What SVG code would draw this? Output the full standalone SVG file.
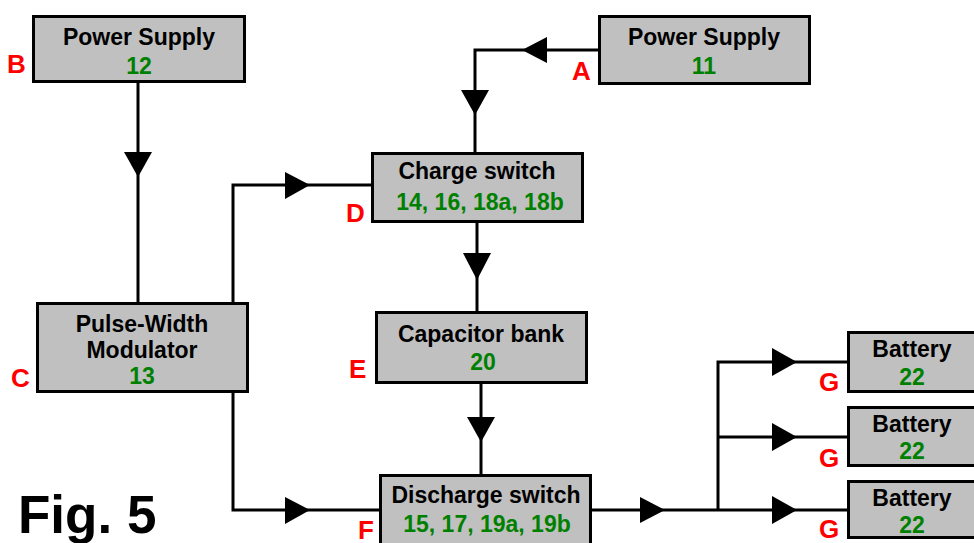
<svg xmlns="http://www.w3.org/2000/svg" width="974" height="543" viewBox="0 0 974 543">
<style>
.box{fill:#c0c0c0;stroke:#000;stroke-width:3}
.t{font-family:"Liberation Sans",Arial,sans-serif;font-weight:bold;font-size:23px;fill:#000;text-anchor:middle}
.n{font-family:"Liberation Sans",Arial,sans-serif;font-weight:bold;font-size:23px;fill:#008000;text-anchor:middle}
.lab{font-family:"Liberation Sans",Arial,sans-serif;font-weight:bold;font-size:26px;fill:#ff0000}
.ln{fill:none;stroke:#000;stroke-width:3}
.ah{fill:#000;stroke:none}
.fig{font-family:"Liberation Sans",Arial,sans-serif;font-weight:bold;font-size:53px;fill:#000}
</style>
<rect width="974" height="543" fill="#fff"/>
<g id="connectors">
  <path class="ln" d="M138,83 V302"/>
  <polygon class="ah" points="124,152 152,152 138,177"/>
  <path class="ln" d="M598,50 H475 V152"/>
  <polygon class="ah" points="547,37 547,63 522,50"/>
  <polygon class="ah" points="461,90 489,90 475,115"/>
  <path class="ln" d="M233,302 V185 H372"/>
  <polygon class="ah" points="285,172 285,199 310,185"/>
  <path class="ln" d="M477,222 V312"/>
  <polygon class="ah" points="463,253 491,253 477,280"/>
  <path class="ln" d="M481,383 V474"/>
  <polygon class="ah" points="467,417 495,417 481,442"/>
  <path class="ln" d="M233,393 V510 H379"/>
  <polygon class="ah" points="285,497 285,524 310,510"/>
  <path class="ln" d="M592,510 H847"/>
  <polygon class="ah" points="640,497 640,523 665,510"/>
  <path class="ln" d="M718,510 V362 H847"/>
  <path class="ln" d="M718,437 H847"/>
  <polygon class="ah" points="772,348 772,376 797,362"/>
  <polygon class="ah" points="772,423 772,451 797,437"/>
  <polygon class="ah" points="772,496 772,524 797,510"/>
</g>
<g id="nodeB">
  <rect class="box" x="33.5" y="16.5" width="211" height="65"/>
  <text class="t" x="139" y="45">Power Supply</text>
  <text class="n" x="139" y="74">12</text>
  <text class="lab" x="7" y="73">B</text>
</g>
<g id="nodeA">
  <rect class="box" x="599.5" y="16.5" width="210" height="67"/>
  <text class="t" x="704" y="45">Power Supply</text>
  <text class="n" x="704" y="74">11</text>
  <text class="lab" x="572" y="80">A</text>
</g>
<g id="nodeC">
  <rect class="box" x="37.5" y="303.5" width="210" height="88"/>
  <text class="t" x="142" y="332">Pulse-Width</text>
  <text class="t" x="142" y="358">Modulator</text>
  <text class="n" x="142" y="384">13</text>
  <text class="lab" x="11" y="387">C</text>
</g>
<g id="nodeD">
  <rect class="box" x="372.5" y="153.5" width="210" height="68"/>
  <text class="t" x="477" y="179">Charge switch</text>
  <text class="n" x="480" y="210">14, 16, 18a, 18b</text>
  <text class="lab" x="346" y="222">D</text>
</g>
<g id="nodeE">
  <rect class="box" x="376.5" y="312.5" width="210" height="70"/>
  <text class="t" x="481" y="342">Capacitor bank</text>
  <text class="n" x="483" y="370">20</text>
  <text class="lab" x="349" y="378">E</text>
</g>
<g id="nodeF">
  <rect class="box" x="380.5" y="475.5" width="210" height="80"/>
  <text class="t" x="486" y="503">Discharge switch</text>
  <text class="n" x="487" y="532">15, 17, 19a, 19b</text>
  <text class="lab" x="358" y="539" font-size="24">F</text>
</g>
<g id="nodeG1">
  <rect class="box" x="848.5" y="332.5" width="140" height="59"/>
  <text class="t" x="912" y="357">Battery</text>
  <text class="n" x="912" y="385">22</text>
  <text class="lab" x="819" y="391">G</text>
</g>
<g id="nodeG2">
  <rect class="box" x="848.5" y="407.5" width="140" height="58"/>
  <text class="t" x="912" y="432">Battery</text>
  <text class="n" x="912" y="459">22</text>
  <text class="lab" x="819" y="467">G</text>
</g>
<g id="nodeG3">
  <rect class="box" x="848.5" y="481.5" width="140" height="56"/>
  <text class="t" x="912" y="506">Battery</text>
  <text class="n" x="912" y="533">22</text>
  <text class="lab" x="819" y="538">G</text>
</g>
<text class="fig" x="18" y="533">Fig. 5</text>
</svg>
